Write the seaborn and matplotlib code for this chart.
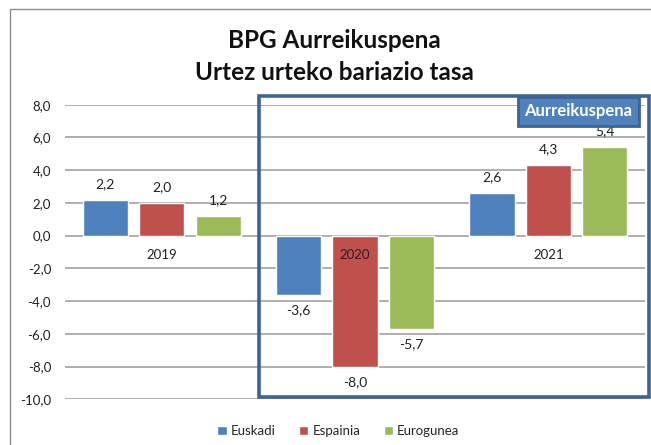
import pandas as pd
import numpy as np
import matplotlib
matplotlib.use("Agg")
import matplotlib.pyplot as plt
import seaborn as sns
from matplotlib.patches import Rectangle

years = ["2019", "2020", "2021"]
regions = ["Euskadi", "Espainia", "Eurogunea"]
euskadi = [2.2, -3.6, 2.6]
espainia = [2.0, -8.0, 4.3]
eurogunea = [1.2, -5.7, 5.4]
colors = ["#4F81BD", "#C0504D", "#9BBB59"]
forecast_years = ["2020", "2021"]

df = pd.DataFrame({
    "year": years * 3,
    "region": [r for r in regions for _ in years],
    "value": euskadi + espainia + eurogunea,
})

sns.set_theme(style="white")
plt.rcParams["font.family"] = ["Lato", "DejaVu Sans"]

fig = plt.figure(figsize=(6.51, 4.45), dpi=100)
ax = fig.add_axes([65 / 651, 1 - 399.3 / 445, 580 / 651, 294.6 / 445])

sns.barplot(data=df, x="year", y="value", hue="region", order=years,
            hue_order=regions, palette=colors, width=0.875, gap=0.2,
            saturation=1, ax=ax, legend=True)

ax.set_ylim(-10, 8)
ax.set_xlim(-0.5, 2.5)
ax.set_yticks(np.arange(-10, 9, 2))
ax.yaxis.set_major_formatter(lambda v, p: f"{v:.1f}".replace(".", ","))
ax.grid(axis="y", color="#A9A9A9", lw=1.3)
ax.set_axisbelow(True)
for s in ["left", "right", "top", "bottom"]:
    ax.spines[s].set_visible(False)
ax.tick_params(axis="y", length=0, pad=10, labelsize=9.5, labelcolor="#222222")
ax.tick_params(axis="x", length=0, labelbottom=False)
ax.set_xlabel("")
ax.set_ylabel("")

# category labels sit just under the zero line, on top of the bars
for xt, lab in zip(ax.get_xticks(), years):
    ax.text(xt, -1.2, lab, ha="center", va="center", fontsize=9.5,
            color="#222222", zorder=4)

for c in ax.containers:
    ax.bar_label(c, labels=[f"{v:.1f}".replace(".", ",") for v in c.datavalues],
                 padding=7, fontsize=10, color="#222222")

# forecast frame around 2020-2021
x0 = years.index(forecast_years[0]) - 0.5
ax.add_patch(Rectangle((x0 + 0.005, -9.86), 2.52 - x0 - 0.005, 8.53 + 9.86,
                       fill=False, edgecolor="#3C6494", lw=2.6, clip_on=False,
                       zorder=5))
ax.text(2.155, 7.6, "Aurreikuspena", ha="center", va="center", color="white",
        fontsize=12, fontweight="bold", zorder=6, clip_on=False,
        bbox=dict(boxstyle="square,pad=0.4", facecolor="#4F81BD",
                  edgecolor="#3C6494", lw=2))

leg = ax.legend(loc="center", bbox_to_anchor=(0.52, 0.031),
                bbox_transform=fig.transFigure, ncol=3, frameon=False,
                fontsize=9.5, handlelength=0.7, handleheight=0.7,
                handletextpad=0.3, columnspacing=1.8)

fig.text(0.513, 1 - 40 / 445, "BPG Aurreikuspena", ha="center", va="center",
         fontsize=17.5, fontweight="bold", color="#111111")
fig.text(0.513, 1 - 72 / 445, "Urtez urteko bariazio tasa", ha="center",
         va="center", fontsize=17.5, fontweight="bold", color="#111111")

# outer chart border (cropped at right and bottom)
fig.patches.append(Rectangle((10 / 651, -0.1), 1.0, 1 - 9 / 445 + 0.1,
                             transform=fig.transFigure, fill=False,
                             edgecolor="#8C8C8C", lw=1))

fig.savefig("out.png", dpi=100)
